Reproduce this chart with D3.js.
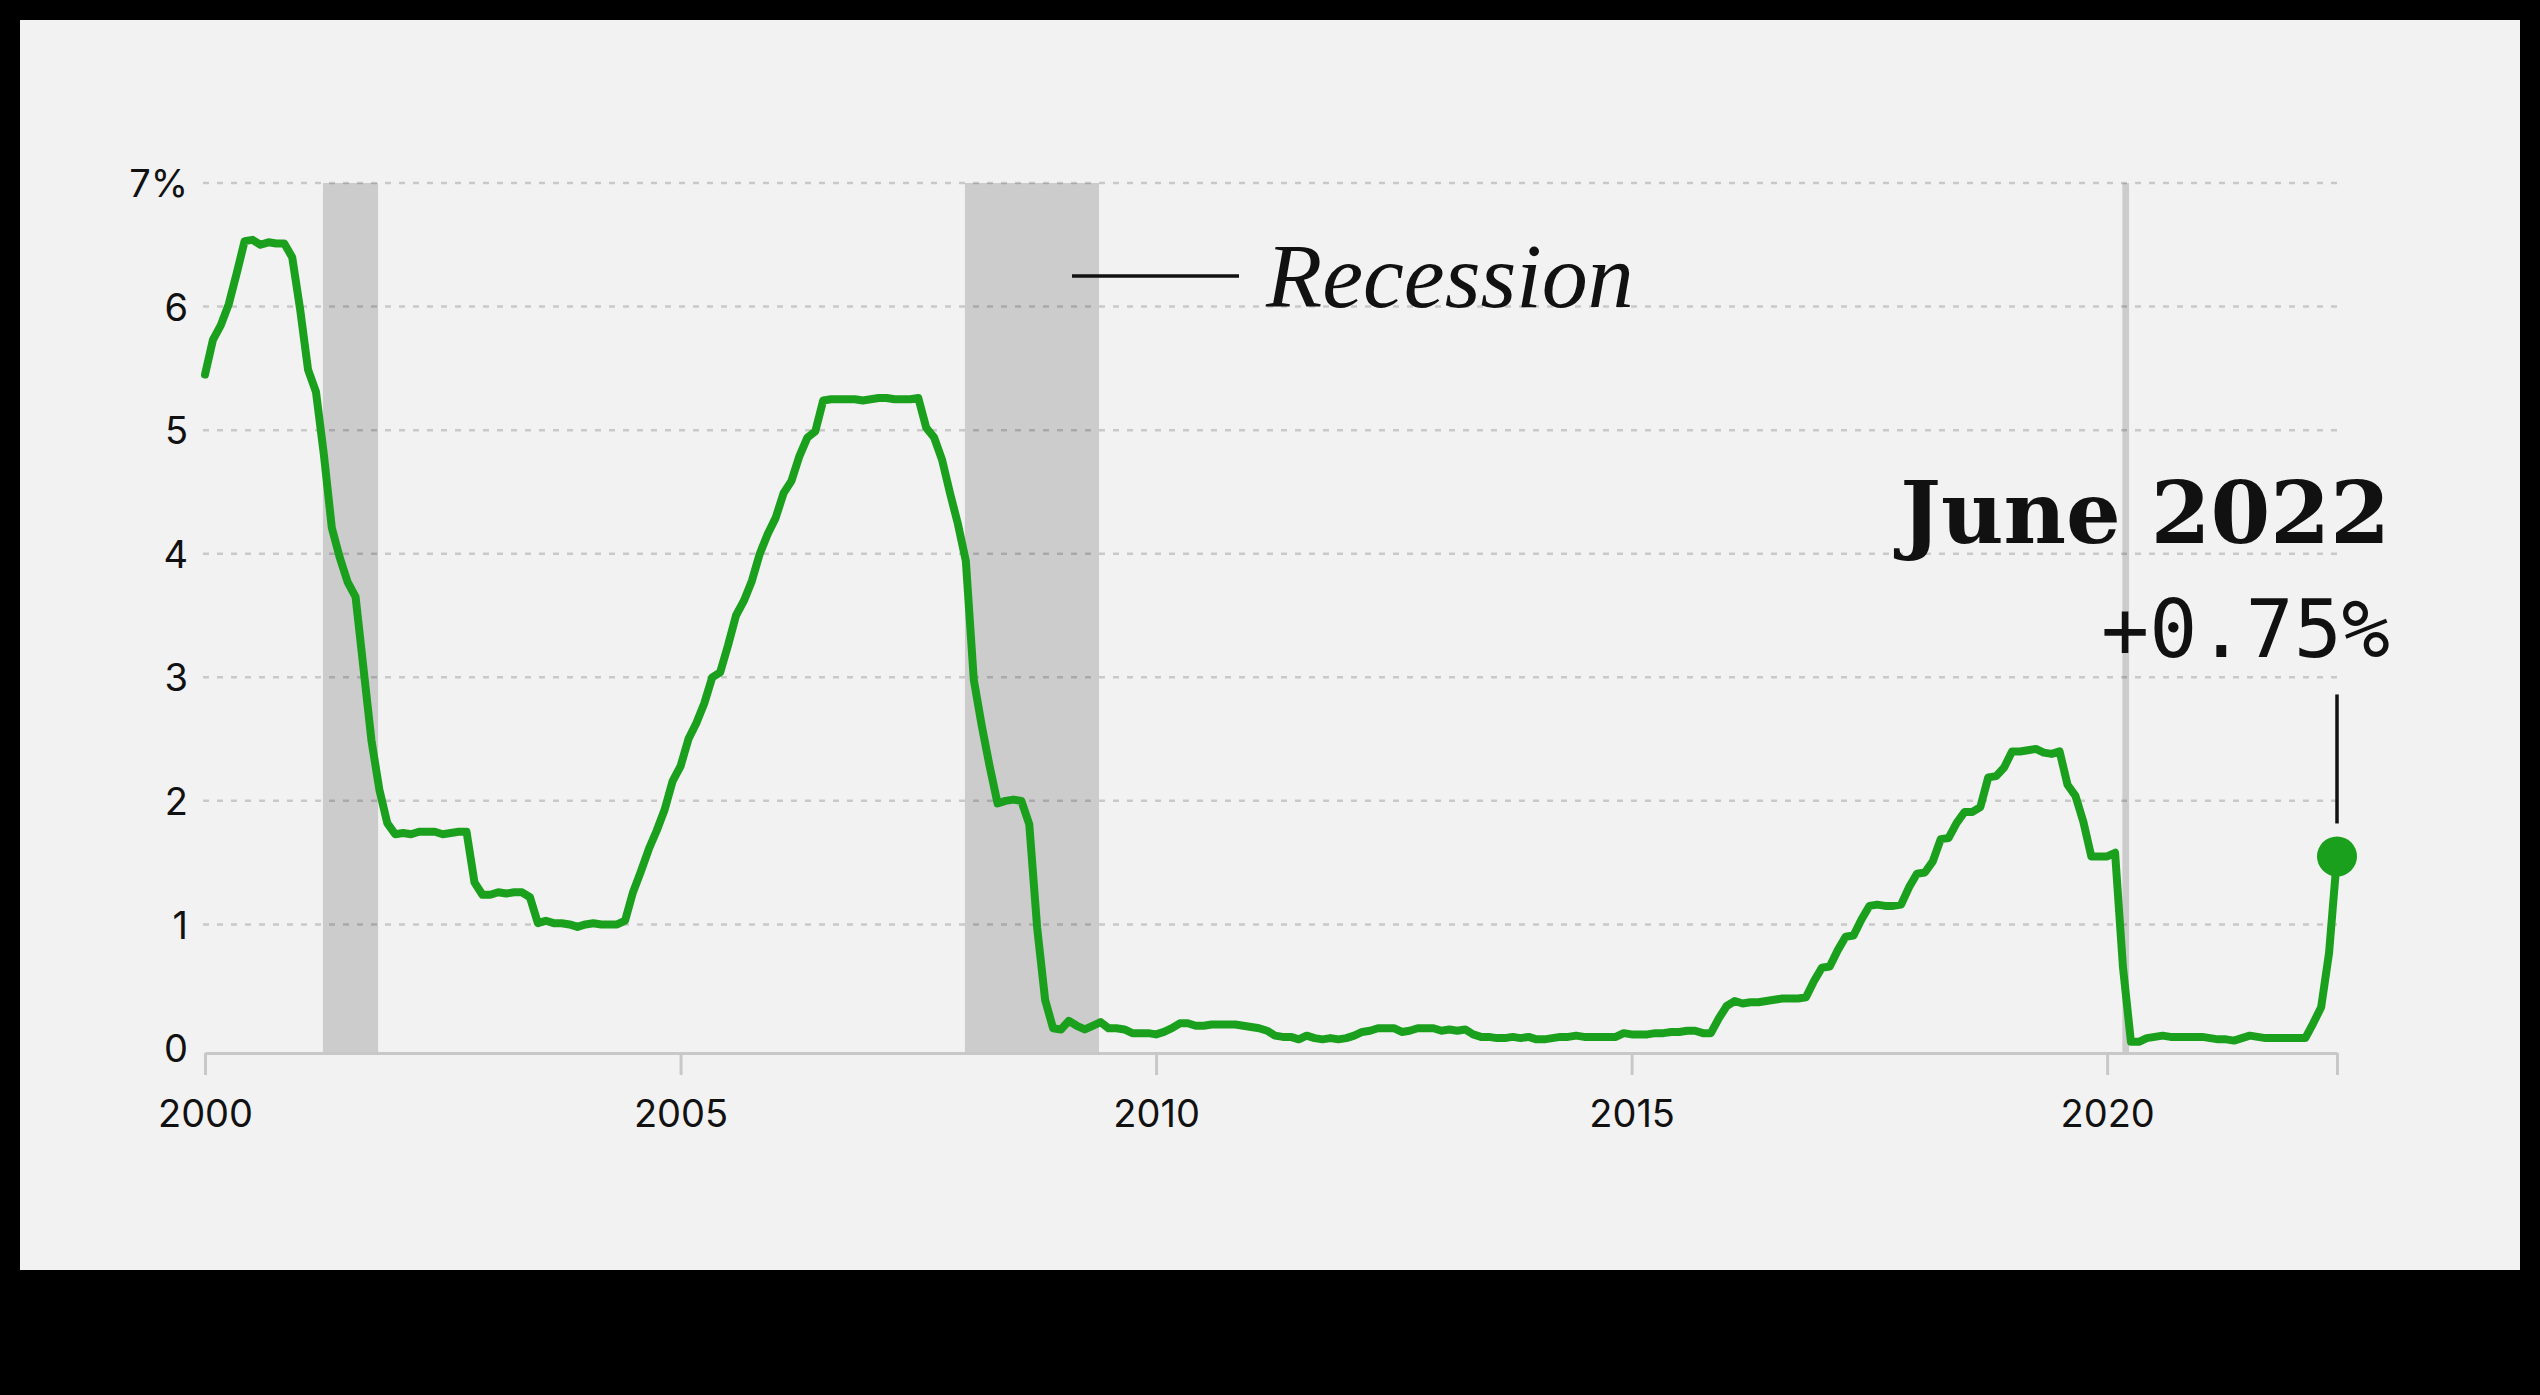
<!DOCTYPE html>
<html><head><meta charset="utf-8">
<script src="https://cdn.jsdelivr.net/npm/d3@7"></script>
<style>html,body{margin:0;padding:0;background:#000;} svg{display:block;}</style>
</head><body>
<svg id="chart" width="2540" height="1395"></svg>
<script>
// ---- data (monthly effective federal funds rate, %) ----
const startYear = 2000;
const rates2000s = [
  5.45,5.73,5.85,6.02,6.27,6.53,6.54,6.50,6.52,6.51,6.51,6.40,
  5.98,5.49,5.31,4.80,4.21,3.97,3.77,3.65,3.07,2.49,2.09,1.82,
  1.73,1.74,1.73,1.75,1.75,1.75,1.73,1.74,1.75,1.75,1.34,1.24,
  1.24,1.26,1.25,1.26,1.26,1.22,1.01,1.03,1.01,1.01,1.00,0.98,
  1.00,1.01,1.00,1.00,1.00,1.03,1.26,1.43,1.61,1.76,1.93,2.16,
  2.28,2.50,2.63,2.79,3.00,3.04,3.26,3.50,3.62,3.78,4.00,4.16,
  4.29,4.49,4.59,4.79,4.94,4.99,5.24,5.25,5.25,5.25,5.25,5.24,
  5.25,5.26,5.26,5.25,5.25,5.25,5.26,5.02,4.94,4.76,4.49,4.24,
  3.94,2.98,2.61,2.28,1.98,2.00,2.01,2.00,1.81,0.97,0.39,0.16,
  0.15,0.22,0.18,0.15,0.18,0.21,0.16,0.16,0.15,0.12,0.12,0.12
];
const rates2010s = [
  0.11,0.13,0.16,0.20,0.20,0.18,0.18,0.19,0.19,0.19,0.19,0.18,
  0.17,0.16,0.14,0.10,0.09,0.09,0.07,0.10,0.08,0.07,0.08,0.07,
  0.08,0.10,0.13,0.14,0.16,0.16,0.16,0.13,0.14,0.16,0.16,0.16,
  0.14,0.15,0.14,0.15,0.11,0.09,0.09,0.08,0.08,0.09,0.08,0.09,
  0.07,0.07,0.08,0.09,0.09,0.10,0.09,0.09,0.09,0.09,0.09,0.12,
  0.11,0.11,0.11,0.12,0.12,0.13,0.13,0.14,0.14,0.12,0.12,0.24,
  0.34,0.38,0.36,0.37,0.37,0.38,0.39,0.40,0.40,0.40,0.41,0.54,
  0.65,0.66,0.79,0.90,0.91,1.04,1.15,1.16,1.15,1.15,1.16,1.30,
  1.41,1.42,1.51,1.69,1.70,1.82,1.91,1.91,1.95,2.19,2.20,2.27,
  2.40,2.40,2.41,2.42,2.39,2.38,2.40,2.13,2.04,1.83,1.55,1.55
];
const rates2020s = [
  1.55,1.58,0.65,0.05,0.05,0.08,0.09,0.10,0.09,0.09,0.09,0.09,
  0.09,0.08,0.07,0.07,0.06,0.08,0.10,0.09,0.08,0.08,0.08,0.08,
  0.08,0.08,0.20,0.33,0.77,1.55
];
const xTickYears = [2000, 2005, 2010, 2015, 2020];
const yTickValues = [0, 1, 2, 3, 4, 5, 6, 7];
const recessions = [[2001.24, 2001.82], [2007.99, 2009.40], [2020.16, 2020.23]];
const legendLabel = "Recession";
const annotationTitle = "June 2022";
const annotationValue = "+0.75%";

// ---- build series ----
const allRates = rates2000s.concat(rates2010s, rates2020s);
const series = allRates.map((v, i) => ({ t: startYear + i / 12, v }));
const last = series[series.length - 1];

const GREEN = "#1ba01e";
const svg = d3.select("#chart");

// panel
svg.append("rect").attr("x", 20).attr("y", 20).attr("width", 2500).attr("height", 1250).attr("fill", "#f2f2f2");

const x = d3.scaleLinear().domain([startYear, last.t]).range([205, 2337]);
const y = d3.scaleLinear().domain([0, 7]).range([1048, 183]);

// recession shading
svg.append("g").selectAll("rect").data(recessions).join("rect")
  .attr("x", d => x(d[0]))
  .attr("width", d => x(d[1]) - x(d[0]))
  .attr("y", y(7))
  .attr("height", y(0) + 5 - y(7))
  .attr("fill", "#cccccc");

// gridlines (dashed)
svg.append("g").selectAll("line").data(yTickValues.filter(d => d > 0)).join("line")
  .attr("x1", 203).attr("x2", x(last.t))
  .attr("y1", d => y(d)).attr("y2", d => y(d))
  .attr("stroke", "#000").attr("stroke-opacity", 0.17)
  .attr("stroke-width", 2.5).attr("stroke-dasharray", "6,8");

// y axis labels
const yAxis = svg.append("g").attr("transform", "translate(188,0)")
  .call(d3.axisLeft(y).tickValues(yTickValues).tickSize(0).tickPadding(0)
    .tickFormat(d => d === 7 ? "7%" : String(d)));
yAxis.select(".domain").remove();
yAxis.selectAll("text").attr("font-family", "Inter, 'Liberation Sans', sans-serif")
  .attr("font-size", 38).attr("fill", "#111").attr("dy", "0.36em");

// x axis
const axisY = y(0) + 5;
const xAxis = svg.append("g").attr("transform", `translate(0,${axisY})`)
  .call(d3.axisBottom(x).tickValues(xTickYears.concat([last.t])).tickSize(22).tickSizeOuter(0)
    .tickFormat(d => xTickYears.includes(d) ? String(d) : ""));
xAxis.select(".domain").attr("stroke", "#c8c8c8").attr("stroke-width", 3);
xAxis.selectAll(".tick line").attr("stroke", "#c8c8c8").attr("stroke-width", 3);
xAxis.selectAll("text").attr("font-family", "Inter, 'Liberation Sans', sans-serif")
  .attr("font-size", 38).attr("fill", "#111").attr("y", 1127 - axisY).attr("dy", 0);

// line
const line = d3.line().x(d => x(d.t)).y(d => y(d.v));
svg.append("path").datum(series).attr("d", line)
  .attr("fill", "none").attr("stroke", GREEN).attr("stroke-width", 8)
  .attr("stroke-linejoin", "round").attr("stroke-linecap", "round");

// end dot + pointer
const dx = x(last.t), dy = y(last.v);
svg.append("line").attr("x1", dx).attr("x2", dx).attr("y1", dy - 162).attr("y2", dy - 33)
  .attr("stroke", "#111").attr("stroke-width", 3.5);
svg.append("circle").attr("cx", dx).attr("cy", dy).attr("r", 20).attr("fill", GREEN);

// annotation text
svg.append("text").attr("x", dx + 53).attr("y", 543).attr("text-anchor", "end")
  .attr("font-family", "'DejaVu Serif', serif").attr("font-weight", "bold")
  .attr("font-size", 86).attr("fill", "#111").text(annotationTitle);
svg.append("text").attr("x", dx + 53).attr("y", 657).attr("text-anchor", "end")
  .attr("font-family", "'DejaVu Sans Mono', monospace")
  .attr("font-size", 80).attr("fill", "#111").text(annotationValue);

// legend
svg.append("line").attr("x1", 1072).attr("x2", 1239).attr("y1", 276).attr("y2", 276)
  .attr("stroke", "#111").attr("stroke-width", 3.5);
svg.append("text").attr("x", 1266).attr("y", 307)
  .attr("font-family", "'Liberation Serif', serif").attr("font-style", "italic")
  .attr("font-size", 92).attr("fill", "#111").text(legendLabel);
</script>
</body></html>
